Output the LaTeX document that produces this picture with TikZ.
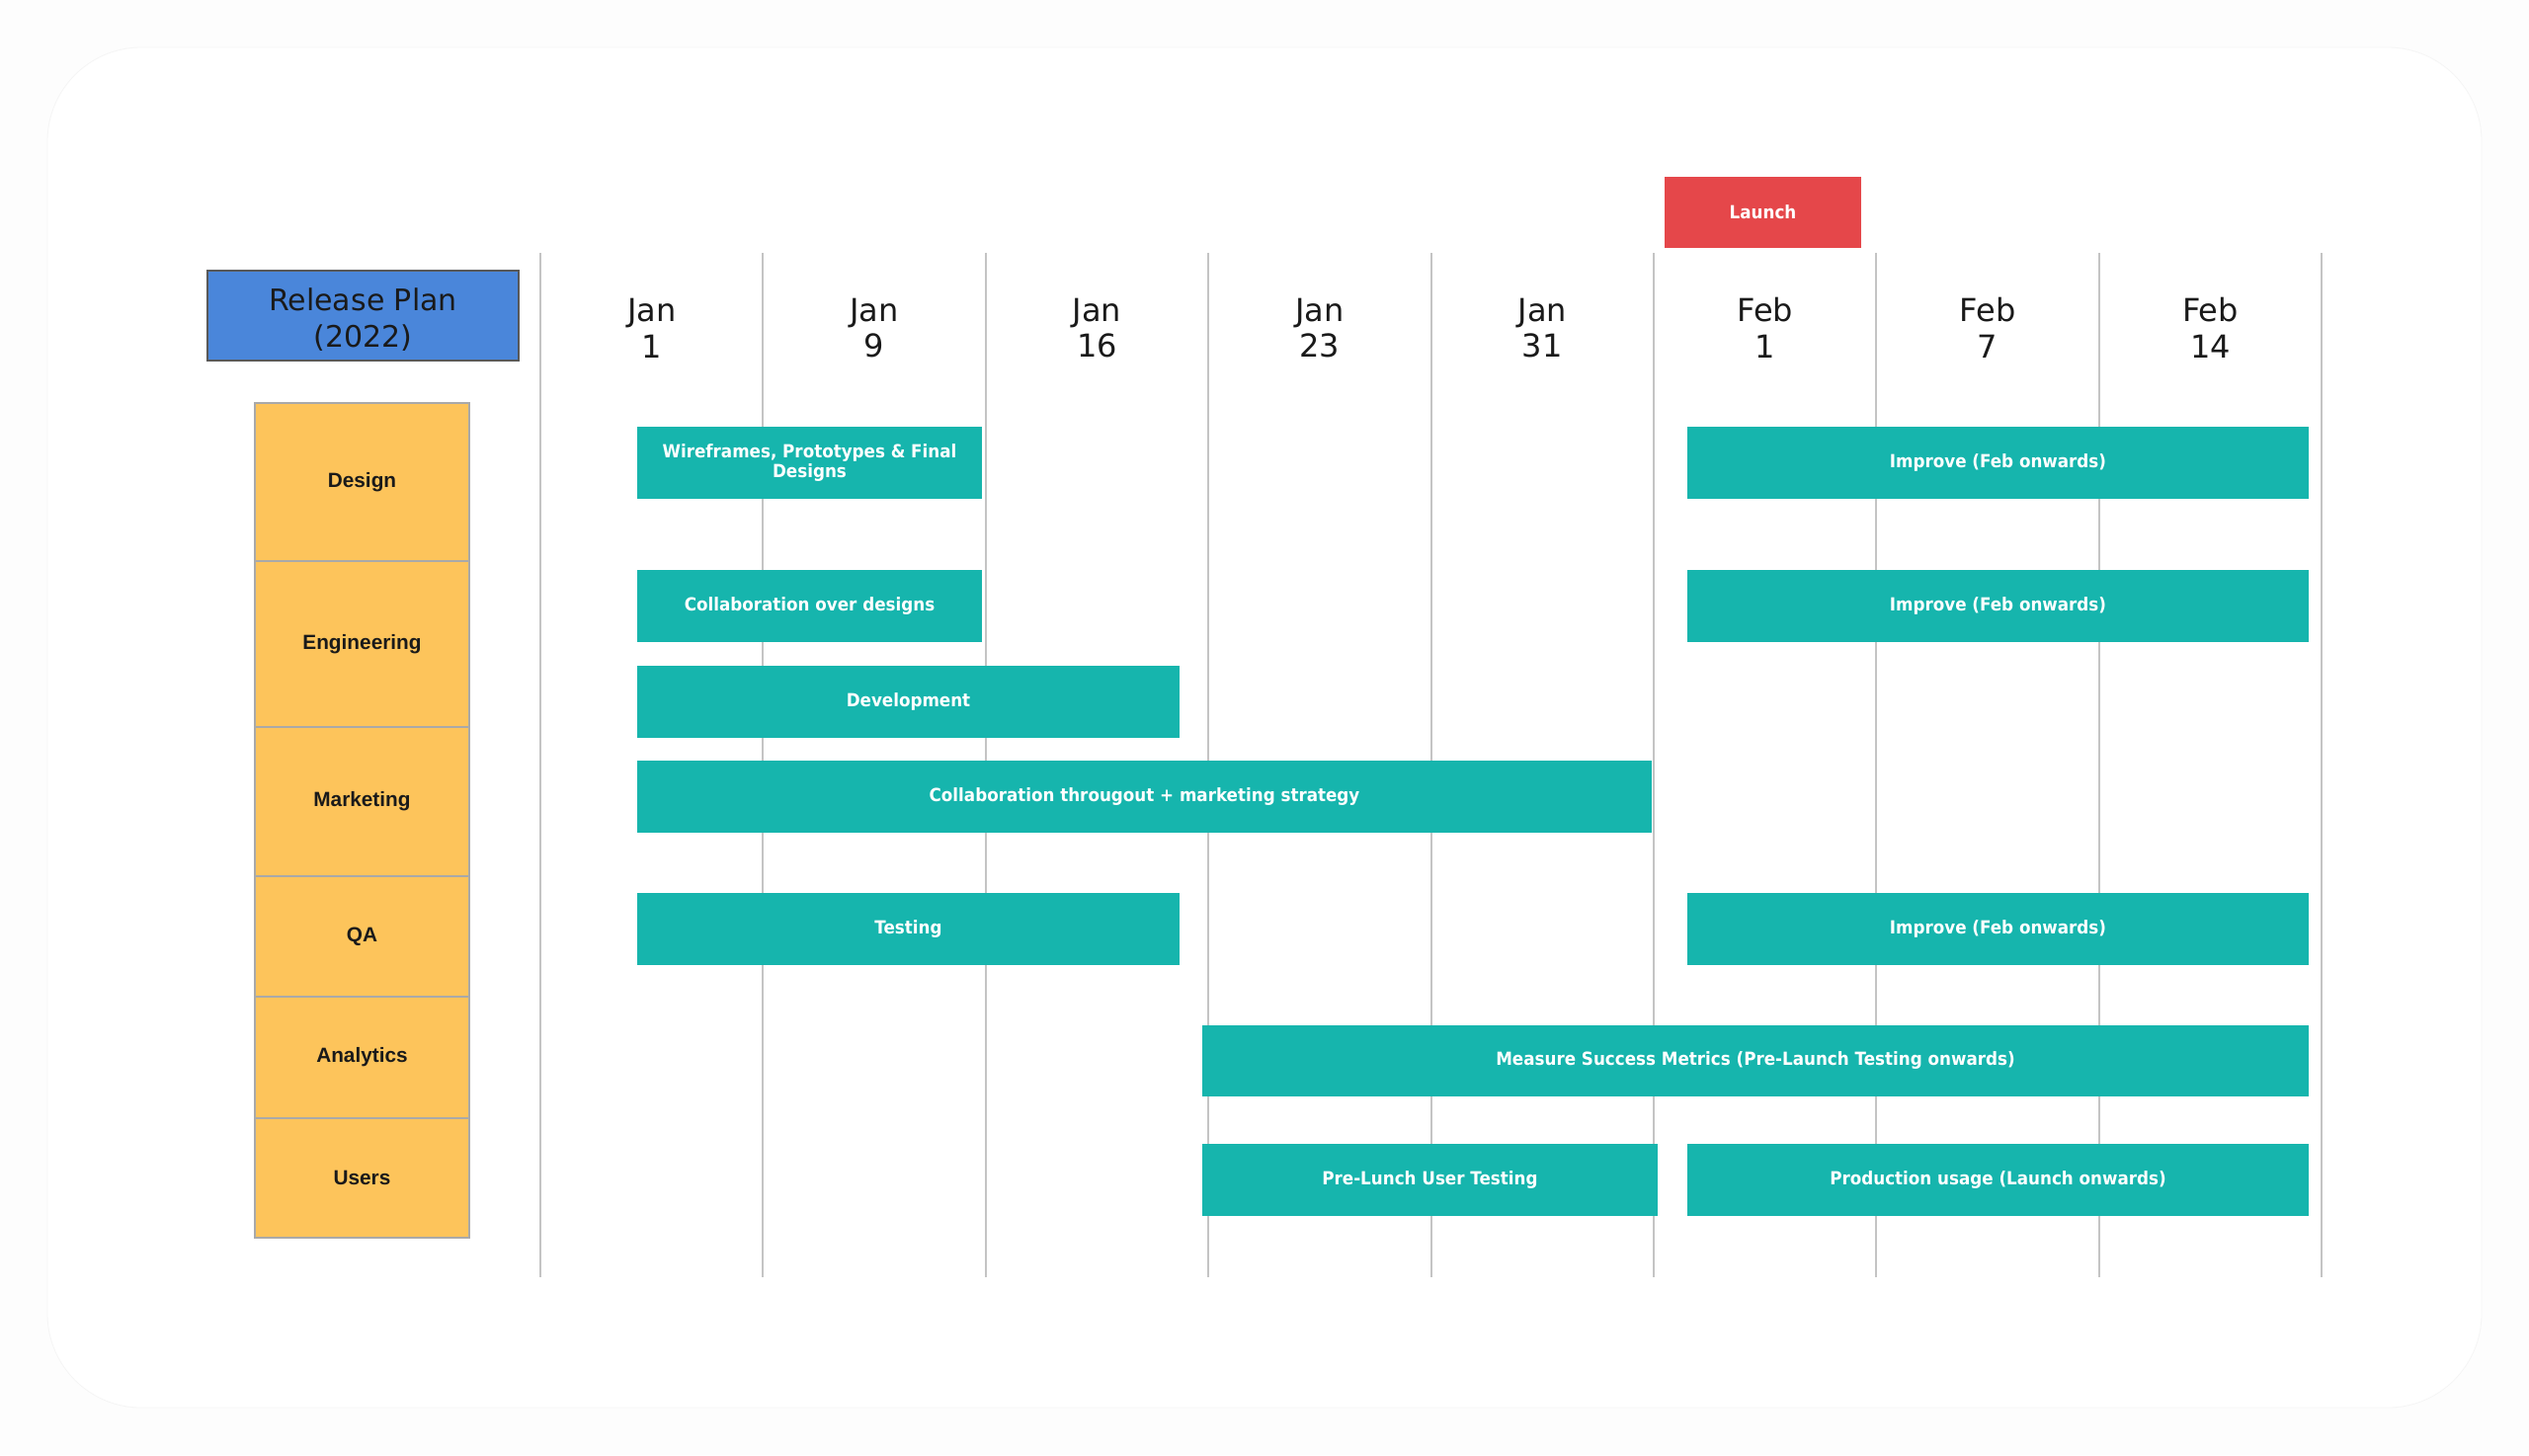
\documentclass[tikz,border=0pt]{standalone}
\usepackage{fontspec}
\setmainfont{DejaVu Sans}
\newfontfamily\barfont{DejaVu Sans}[FakeStretch=0.915]
\newfontfamily\catfont{Liberation Sans}
\definecolor{tealbar}{HTML}{16B5AD}
\definecolor{catfill}{HTML}{FDC45B}
\definecolor{catline}{HTML}{A9A9A9}
\definecolor{planblue}{HTML}{4A86DA}
\definecolor{launchred}{HTML}{E5474A}
\definecolor{gridgray}{HTML}{C4C4C4}
\definecolor{inkdark}{HTML}{1A1A1A}
\definecolor{pagebg}{HTML}{FDFDFD}
\tikzset{
  barbox/.style={fill=tealbar, draw=none, inner sep=0pt, text=white, align=center,
    font=\barfont\bfseries\fontsize{9.15}{10.35}\selectfont},
  catbox/.style={fill=catfill, draw=catline, line width=1pt, inner sep=0pt,
    text=inkdark, font=\catfont\bfseries\fontsize{10.4}{12}\selectfont},
  datelabel/.style={inner sep=0pt, align=center, text=inkdark,
    font=\fontsize{16}{18.35}\selectfont},
  gridline/.style={draw=gridgray, line width=1pt},
}
\newcommand\gbar[6]{\node[barbox, minimum width={(#3-#2)*0.5pt}, minimum height={(#5-#4)*0.5pt}] (#1) at ({(#2+#3)/2},{(#4+#5)/2}) {#6};}
\newcommand\gcat[4]{\node[catbox, minimum width={(475-258)*0.5pt}, minimum height={(#4-#3)*0.5pt}] (#1) at ({(258+475)/2},{(#3+#4)/2}) {#2};}
\begin{document}
\begin{tikzpicture}[x=0.5pt, y=-0.5pt]
\useasboundingbox (0,0) rectangle (2560,1473);
\fill[pagebg] (0,0) rectangle (2560,1473);
\fill[white, draw=black!4, line width=0.4pt, rounded corners=47.5pt] (48,48) rectangle (2512,1425);
% grid lines
\foreach \k in {0,...,8} {
  \draw[gridline] ({547+225.4*\k},256) -- ({547+225.4*\k},1293);
}
% dates
\foreach \k/\m/\d in {0/Jan/1,1/Jan/9,2/Jan/16,3/Jan/23,4/Jan/31,5/Feb/1,6/Feb/7,7/Feb/14} {
  \node[datelabel] (date\k) at ({547+225.4*\k+112.7},332) {\m\\\d};
}
% title
\node[fill=planblue, draw=black!65, line width=1pt, inner sep=0pt, minimum width={315*0.5pt}, minimum height={91*0.5pt}]
  (title) at (367.5,319.5) {};
\node[inner sep=0pt, align=center, text=inkdark, font=\fontsize{15}{18.35}\selectfont]
  (titletext) at (367.5,323.5) {Release Plan\\(2022)};
% launch
\node[fill=launchred, draw=none, inner sep=0pt, text=white,
  font=\barfont\bfseries\fontsize{9.15}{10.35}\selectfont, minimum width={199*0.5pt}, minimum height={72*0.5pt}]
  (launch) at (1784.5,215) {Launch};
% categories
\gcat{design}{Design}{408}{568}
\gcat{eng}{Engineering}{568}{736}
\gcat{mkt}{Marketing}{736}{887}
\gcat{qa}{QA}{887}{1009}
\gcat{analytics}{Analytics}{1009}{1132}
\gcat{users}{Users}{1132}{1253}
% bars
\gbar{wire}{645}{994}{432}{505}{Wireframes, Prototypes \& Final\\Designs}
\gbar{dimp}{1708}{2337}{432}{505}{Improve (Feb onwards)}
\gbar{collab}{645}{994}{577}{650}{Collaboration over designs}
\gbar{eimp}{1708}{2337}{577}{650}{Improve (Feb onwards)}
\gbar{dev}{645}{1194}{674}{747}{Development}
\gbar{mktbar}{645}{1672}{770}{843}{Collaboration througout + marketing strategy}
\gbar{test}{645}{1194}{904}{977}{Testing}
\gbar{qimp}{1708}{2337}{904}{977}{Improve (Feb onwards)}
\gbar{meas}{1217}{2337}{1038}{1110}{Measure Success Metrics (Pre-Launch Testing onwards)}
\gbar{pre}{1217}{1678}{1158}{1231}{Pre-Lunch User Testing}
\gbar{prod}{1708}{2337}{1158}{1231}{Production usage (Launch onwards)}
\end{tikzpicture}
\end{document}
